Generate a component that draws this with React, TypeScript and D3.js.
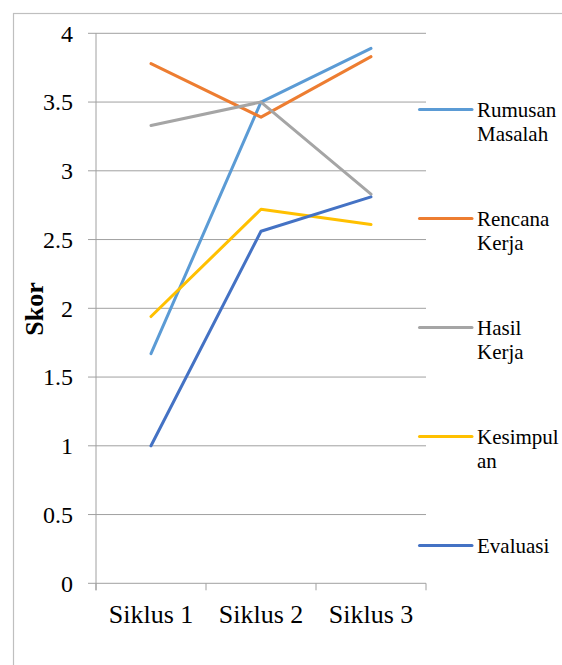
import React from "react";
import * as d3 from "d3";

const categories = ["Siklus 1", "Siklus 2", "Siklus 3"];
const yTicks = [0, 0.5, 1, 1.5, 2, 2.5, 3, 3.5, 4];
const seriesNames = ["Rumusan Masalah", "Rencana Kerja", "Hasil Kerja", "Kesimpulan", "Evaluasi"];
const legendLabels = [["Rumusan", "Masalah"], ["Rencana", "Kerja"], ["Hasil", "Kerja"], ["Kesimpul", "an"], ["Evaluasi"]];
const rumusanMasalah = [1.67, 3.5, 3.89];
const rencanaKerja = [3.78, 3.39, 3.83];
const hasilKerja = [3.33, 3.5, 2.83];
const kesimpulan = [1.94, 2.72, 2.61];
const evaluasi = [1.0, 2.56, 2.81];
const seriesValues = [rumusanMasalah, rencanaKerja, hasilKerja, kesimpulan, evaluasi];
const colors = ["#5B9BD5", "#ED7D31", "#A5A5A5", "#FFC000", "#4472C4"];

const FONT = '"Liberation Serif", "DejaVu Serif", serif';

export default function App() {
  const W = 562, H = 665;
  const left = 96, right = 426, top = 33.3, bottom = 583.3;
  const x = d3.scaleBand<string>().domain(categories).range([left, right]);
  const y = d3.scaleLinear().domain([0, 4]).range([bottom, top]);
  const line = d3
    .line<number>()
    .x((_, i) => (x(categories[i]) as number) + x.bandwidth() / 2)
    .y((d) => y(d));
  const tickXs = [...categories.map((c) => x(c) as number), right];
  const ts = { fontFamily: FONT };
  return (
    <svg width={W} height={H} style={{ position: "absolute", left: 0, top: 0 }}>
      <rect x={0} y={0} width={W} height={H} fill="#fff" />
      <rect x={13.5} y={13.5} width={W} height={H} fill="none" stroke="#BFBFBF" strokeWidth={1.2} />
      {yTicks.map((t) => (
        <g key={t}>
          <line x1={88} x2={right} y1={y(t)} y2={y(t)} stroke="#A0A0A0" strokeWidth={1} />
          <text x={73} y={y(t)} dy="0.35em" textAnchor="end" fontSize={24} fill="#000" style={ts}>
            {t}
          </text>
        </g>
      ))}
      <line x1={left} x2={left} y1={top} y2={bottom + 7} stroke="#A0A0A0" strokeWidth={1} />
      {tickXs.map((tx, i) => (
        <line key={i} x1={tx} x2={tx} y1={bottom} y2={bottom + 7} stroke="#A0A0A0" strokeWidth={1} />
      ))}
      {categories.map((c) => (
        <text key={c} x={(x(c) as number) + x.bandwidth() / 2} y={623} textAnchor="middle" fontSize={26} fill="#000" style={ts}>
          {c}
        </text>
      ))}
      <text transform="translate(43,309) rotate(-90)" textAnchor="middle" fontSize={26} fontWeight="bold" fill="#000" style={ts}>
        Skor
      </text>
      {seriesValues.map((vals, i) => (
        <path key={seriesNames[i]} d={line(vals) || ""} fill="none" stroke={colors[i]} strokeWidth={3} strokeLinecap="round" strokeLinejoin="round" />
      ))}
      {legendLabels.map((lines, i) => {
        const ly = 109.5 + i * 109;
        return (
          <g key={i}>
            <line x1={419.5} x2={472} y1={ly} y2={ly} stroke={colors[i]} strokeWidth={3} strokeLinecap="round" />
            {lines.map((t, j) => (
              <text key={j} x={477} y={ly + 7.5 + j * 24} fontSize={21} fill="#000" style={ts}>
                {t}
              </text>
            ))}
          </g>
        );
      })}
    </svg>
  );
}
